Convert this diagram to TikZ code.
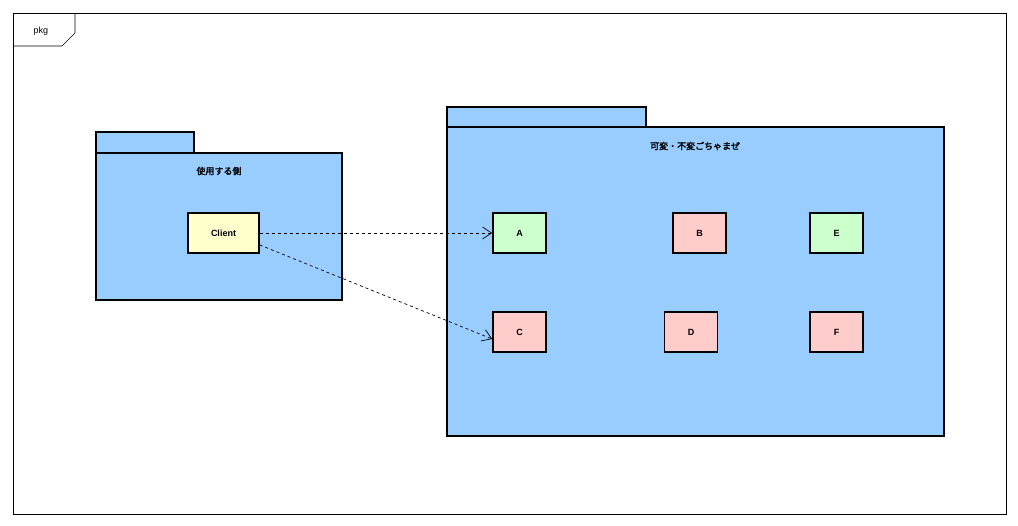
\documentclass[tikz,border=0pt]{standalone}
\usepackage{fontspec}
\setmainfont{Liberation Sans}
\newfontfamily\cjk{Noto Sans CJK JP}[AutoFakeBold=2]
\usetikzlibrary{arrows.meta}
\definecolor{pkgblue}{HTML}{99CCFF}
\definecolor{clsyellow}{HTML}{FFFFCC}
\definecolor{clsgreen}{HTML}{CCFFCC}
\definecolor{clspink}{HTML}{FFCCCC}
\tikzset{
  pkgbox/.style={draw,line width=1.6pt,fill=pkgblue},
  cls/.style={draw,line width=1.6pt,minimum width=53pt,minimum height=40pt,inner sep=0pt,font=\bfseries\small},
  dep/.style={dashed,->,>={Straight Barb[length=9pt,width=12pt]},line width=0.7pt}
}
\begin{document}
\begin{tikzpicture}[x=1pt,y=-1pt]
\useasboundingbox (0,0) rectangle (1018,526);
% outer frame
\draw[line width=0.7pt] (13,13) rectangle (1006,514);
\draw[line width=0.7pt] (13,46) -- (62,46) -- (75,33) -- (75,13);
\node[font=\small] (pkg) at (41,31) {pkg};

% user side package
\draw[pkgbox] (96,132) rectangle (194,153);
\draw[pkgbox] (96,153) rectangle (342,300);
\node[font=\cjk\bfseries\small] (usertitle) at (219,171) {使用する側};
\node[cls,fill=clsyellow,minimum width=71pt] (client) at (223.5,233) {Client};

% mixed package
\draw[pkgbox] (447,107) rectangle (646,127);
\draw[pkgbox] (447,127) rectangle (944,436);
\node[font=\cjk\bfseries\small] (mixtitle) at (695,146) {可変・不変ごちゃまぜ};

\node[cls,fill=clsgreen] (a) at (519.5,233) {A};
\node[cls,fill=clspink] (b) at (699.5,233) {B};
\node[cls,fill=clsgreen] (e) at (836.5,233) {E};
\node[cls,fill=clspink] (c) at (519.5,332) {C};
\node[cls,fill=clspink] (d) at (691,332) {D};
\node[cls,fill=clspink] (f) at (836.5,332) {F};

\draw[dep] (client.east) -- (a.west);
\draw[dep] ([yshift=-12pt]client.east) -- ([yshift=-7pt]c.west);
\end{tikzpicture}
\end{document}
